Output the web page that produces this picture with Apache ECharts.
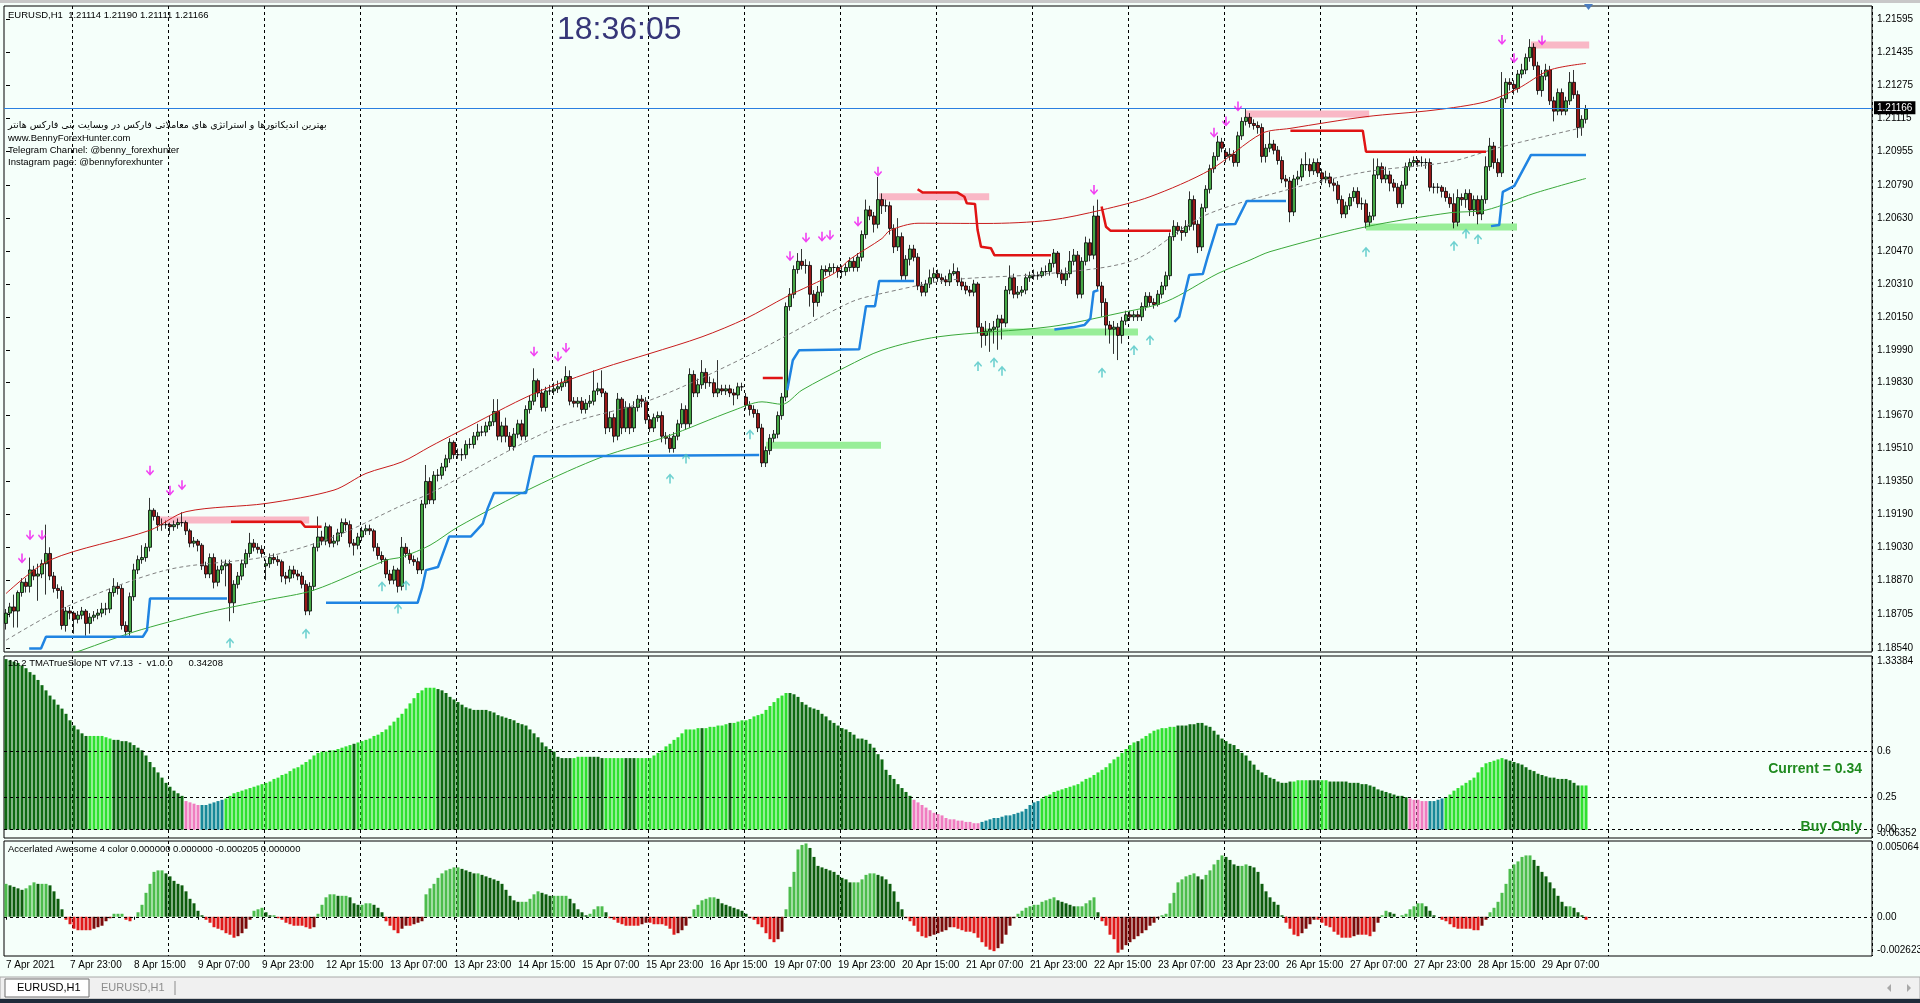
<!DOCTYPE html>
<html><head><meta charset="utf-8">
<script src="https://cdn.jsdelivr.net/npm/echarts@6/dist/echarts.min.js"></script>
<style>html,body{margin:0;padding:0;background:#f5fffa;overflow:hidden}#c{width:1920px;height:1003px}</style>
</head><body><div id="c"></div>
<script>
// ---------- DATA (prices stored as pips above 1.18500) ----------
const BASE_PRICE = 1.185;
const xTickLabels = ['7 Apr 2021','7 Apr 23:00','8 Apr 15:00','9 Apr 07:00','9 Apr 23:00','12 Apr 15:00','13 Apr 07:00','13 Apr 23:00','14 Apr 15:00','15 Apr 07:00','15 Apr 23:00','16 Apr 15:00','19 Apr 07:00','19 Apr 23:00','20 Apr 15:00','21 Apr 07:00','21 Apr 23:00','22 Apr 15:00','23 Apr 07:00','23 Apr 23:00','26 Apr 15:00','27 Apr 07:00','27 Apr 23:00','28 Apr 15:00','29 Apr 07:00'];
const priceTicks = [1.21595,1.21435,1.21275,1.21115,1.20955,1.20790,1.20630,1.20470,1.20310,1.20150,1.19990,1.19830,1.19670,1.19510,1.19350,1.19190,1.19030,1.18870,1.18705,1.18540];
const currentPrice = 1.21166;

const opensPips = [
16,21,24,22,31,36,34,42,39,40, 45,50,39,33,32,15,22,21,18,20,
22,16,19,20,21,23,23,31,34,33, 15,12,29,42,47,48,53,71,68,64,
64,64,63,64,65,65,61,55,56,54, 44,40,48,36,42,44,45,26,35,39,
45,50,55,53,52,44,45,48,47,46, 39,38,42,40,39,35,22,34,53,58,
56,63,55,56,60,65,64,55,54,58, 61,62,61,53,49,47,40,37,42,34,
53,50,47,46,42,74,85,76,88,88, 92,96,104,98,98,98,103,103,107,109,
109,112,114,119,107,112,107,102,108,113, 107,120,124,134,128,121,129,129,130,131,
133,136,124,123,124,120,123,124,129,130, 128,111,116,107,125,111,121,111,121,125,
124,115,111,116,117,107,106,101,107,113, 120,113,137,128,132,138,133,133,128,130,
129,130,128,127,131,126,122,120,118,111, 94,100,106,108,117,126,170,176,188,192,
190,190,176,172,177,188,187,189,189,187, 187,189,192,189,194,205,217,214,210,222,
219,219,208,199,204,185,193,198,194,180, 177,181,184,186,184,183,182,186,187,182,
180,178,177,181,160,156,158,159,160,164, 162,178,184,176,177,178,184,185,185,185,
187,187,191,196,186,183,186,192,195,176, 192,201,195,214,180,172,161,159,160,156,
163,166,165,166,165,170,175,172,171,176, 180,185,204,209,207,206,209,222,210,199,
218,227,237,243,250,245,243,244,240,253, 260,262,259,258,257,243,247,249,246,241,
232,231,216,232,233,239,239,236,240,235, 232,233,230,229,222,215,219,223,226,220,
220,211,214,234,238,232,234,230,228,220, 229,238,240,241,240,240,240,228,228,228,
226,223,220,211,223,222,225,217,222,215, 222,238,248,240,235,271,279,278,276,283,
285,291,296,287,275,282,285,270,265,274, 265,270,279,273,257,261];
const closesPips = [
21,24,22,31,36,34,42,39,40,45, 50,39,33,32,15,22,21,18,20,22,
16,19,20,21,23,23,31,34,33,15, 12,29,42,47,48,53,71,68,64,64,
64,63,64,65,65,61,55,56,54,44, 40,48,36,42,44,45,26,35,39,45,
50,55,53,52,50,45,48,47,46,39, 38,42,40,39,35,22,34,53,58,56,
63,55,56,60,65,64,55,54,58,61, 62,61,53,49,47,40,37,42,34,53,
50,47,46,42,74,85,76,88,88,92, 96,104,98,98,98,103,103,107,109,109,
112,114,119,107,112,107,102,108,113,107, 120,124,134,128,121,129,129,130,131,133,
136,124,123,124,120,123,124,129,130,128, 111,116,107,125,111,121,111,121,125,124,
115,111,116,117,107,106,101,107,113,120, 113,137,128,132,138,133,133,128,130,129,
130,128,127,131,131,122,120,118,111,94, 100,106,108,117,126,170,176,188,192,190,
190,176,172,177,188,187,189,189,187,187, 189,192,189,194,205,217,214,210,222,219,
219,208,199,204,185,193,198,194,180,177, 181,184,186,184,183,182,186,187,182,180,
178,177,181,160,156,158,159,160,164,162, 178,184,176,177,178,184,185,185,185,187,
187,191,196,186,183,186,192,195,176,192, 201,195,214,180,172,161,159,160,156,163,
166,165,166,165,170,175,172,171,176,180, 185,204,209,207,206,209,222,210,199,218,
227,237,243,250,247,243,244,240,253,260, 262,259,258,257,243,247,249,246,241,232,
231,216,232,233,239,239,236,240,235,232, 233,230,229,222,215,219,223,226,220,220,
211,214,234,238,232,234,230,228,220,229, 238,240,241,240,240,240,228,228,228,226,
223,220,211,223,222,225,217,222,215,222, 238,248,240,235,271,279,278,276,283,285,
291,296,287,275,282,285,270,265,274,265, 270,279,273,257,261,266];
const highsPips = [
23,26,30,32,38,38,48,44,45,47, 64,53,41,35,34,24,24,22,22,24,
23,21,22,23,26,26,33,38,36,35, 17,31,45,49,54,55,77,72,70,67,
66,65,66,67,70,66,62,58,57,55, 46,50,50,44,47,47,47,37,41,47,
52,60,57,55,54,47,50,50,49,47, 41,44,44,42,41,37,36,55,68,61,
65,64,59,62,67,67,66,57,60,63, 64,64,62,55,51,48,42,44,43,58,
55,52,49,48,76,93,87,90,91,94, 98,106,105,101,101,105,106,109,113,112,
114,117,125,125,114,116,109,111,115,115, 122,127,140,135,130,131,132,133,134,135,
141,139,126,126,126,125,127,139,133,139, 129,119,118,128,126,124,123,124,127,127,
126,117,118,119,119,109,108,109,115,123, 122,140,139,135,144,140,136,135,144,132,
132,132,130,133,133,128,124,122,120,113, 102,108,110,119,128,172,179,190,196,198,
193,192,178,180,190,190,191,191,190,190, 191,194,194,196,207,222,219,216,233,225,
222,221,210,213,206,195,200,200,196,182, 183,188,189,188,186,185,188,191,189,184,
182,180,183,182,162,163,162,163,166,166, 180,190,186,180,180,186,187,188,187,189,
190,193,198,197,188,189,197,198,197,194, 204,203,219,222,182,174,163,163,162,165,
168,168,168,168,172,177,177,174,178,182, 187,206,212,211,209,212,226,224,212,220,
229,239,245,253,252,247,247,246,255,262, 266,264,261,260,259,249,255,251,248,243,
234,233,234,236,242,245,242,242,242,237, 236,235,232,231,224,221,225,228,228,223,
222,216,242,242,240,238,236,232,230,231, 240,242,243,242,243,242,242,230,230,229,
228,225,225,227,225,227,227,224,224,224, 243,252,250,242,284,281,281,280,285,288,
293,300,298,289,285,288,287,272,276,276, 272,284,285,275,263,268];
const lowsPips = [
13,19,14,14,29,31,31,37,27,38, 30,37,31,28,13,12,18,11,16,18,
10,11,17,18,19,20,21,29,30,13, 10,10,27,40,45,46,51,66,61,61,
62,59,61,62,63,59,53,53,51,42, 38,38,33,34,40,34,17,21,33,37,
43,48,51,50,48,37,43,45,44,36, 35,36,38,37,33,20,20,32,51,54,
54,53,53,54,58,61,53,49,52,56, 59,59,51,47,45,38,35,35,31,32,
48,45,44,40,40,72,74,74,85,86, 90,94,96,96,95,96,101,101,105,107,
107,110,112,105,104,104,100,100,106,105, 105,118,122,126,119,119,127,127,128,129,
131,122,121,121,118,118,121,122,127,126, 108,109,104,105,108,109,108,109,119,121,
113,109,109,114,104,103,99,99,105,111, 110,111,126,126,130,130,131,126,126,127,
127,126,122,125,129,120,117,116,109,92, 92,98,104,106,115,124,168,174,186,188,
186,170,165,170,175,185,185,186,184,184, 185,187,187,187,192,203,212,206,208,215,
216,205,196,197,183,183,190,192,178,175, 175,179,182,182,181,180,180,185,180,178,
176,175,175,157,150,151,148,152,149,154, 160,176,174,174,175,176,182,183,183,184,
185,185,189,184,181,180,184,190,174,174, 190,192,193,178,165,156,152,147,144,152,
161,163,163,163,163,168,170,169,170,174, 178,183,202,205,202,204,207,207,196,197,
216,225,235,241,245,240,241,238,238,251, 258,257,256,254,240,240,245,244,239,230,
228,211,214,229,231,236,233,234,233,229, 230,228,226,220,213,213,217,221,218,217,
208,209,212,232,230,230,226,226,218,218, 227,236,238,238,238,237,226,225,225,223,
221,218,208,209,219,218,214,214,210,212, 220,236,237,233,233,269,275,273,274,281,
283,289,285,273,272,280,268,260,263,263, 263,268,271,252,253,259];

// overlay lines: [barIndex, pips]
const upperBand = [[0,30.5],[11,46.8],[36,61.3],[45,70.3],[65,74.3],[82,80.8],[90,88.9],[99,94.5],[106,101.9],[113,109],[132,127.7],[149,140],[161,147.2],[174,155.3],[185,164.2],[195,174.7],[207,186.1],[211,193],[219,203.1],[221,207],[228,210.5],[245,210.4],[261,212],[274,217],[286,223.4],[301,236.4],[314,254.2],[321,256.6],[340,262.3],[357,265.5],[370,269.6],[378,276],[386,285],[395,288.2]];
const lowerBand = [[0,-10],[19,3],[32,11.9],[49,20.8],[65,27.3],[77,32.2],[95,46.7],[99,48.3],[106,54],[113,62.9],[132,82.3],[149,96.9],[165,106.7],[182,119.6],[189,123.7],[194,122.5],[199,129.4],[210,140.7],[219,148.8],[233,155.3],[261,160.2],[278,166.7],[290,172.4],[303,186.1],[311,192.6],[316,196.7],[340,208.8],[361,215.6],[370,216.9],[382,225],[395,232.3]];
const middleBand = [[0,7.8],[15,24],[40,41.9],[65,48.4],[82,58.1],[99,73.4],[106,79.2],[137,110.7],[161,124.5],[185,145.6],[211,172],[219,176.4],[236,182.9],[261,186.1],[282,192.6],[299,213.7],[320,226.6],[340,235.5],[361,240.4],[374,247.7],[395,257.4]];
const supportSteps = [
 [[5.8,3.8],[8.75,3.8],[10,9.5],[34.2,9.5],[35.25,12.7],[36,28.1],[55.25,28.1]],
 [[80,26],[102.9,26],[104,33],[105,41.9],[108,43.4],[110.8,58.3],[116.25,58.3],[119.2,64.5],[120.4,71.8],[122,79.4],[130,79.4],[132,97.3],[140,97.3],[140.4,97.9],[188.3,97.9]],
 [[195.3,129.3],[196.7,143.9],[198.3,148.8],[213.3,149.2],[215,170.2],[217.25,170.2],[218.3,182.4],[227,182.4]],
 [[262.1,158.9],[266.7,159.9],[269.6,161],[271.1,164.3],[271.9,177.2],[273.1,178]],
 [[292.1,162.6],[293.3,165],[295.8,185.3],[299.2,185.8],[300.4,194],[302.9,209.8],[307.3,210.1],[310.2,221.3],[320,221.3]],
 [[371.25,209.1],[373.3,209.6],[374.2,225.8],[377.1,228.7],[381.25,243.7],[395,243.7]]
];
const resistanceSteps = [
 [[56.25,65.4],[73.75,65.4],[74.75,63],[78.9,63]],
 [[189.2,135.3],[194.2,135.3]],
 [[227.9,227],[229.2,225.4],[237.9,225.4],[239.6,223.4],[240.2,220.2],[242.25,219.9],[242.9,207.2],[243.75,199.1],[246.25,198.3],[247.1,195],[261.25,195]],
 [[273.9,218.6],[275,208.8],[276.1,206.9],[291.25,206.9]],
 [[321.1,255.5],[339.2,255.5],[340,245.3],[370,245.3]]
];
// zones: [fromBar, toBar, pips]
const pinkZones = [[37.9,75.8,66.3],[218.3,245.8,223.4],[310,340.8,263.6],[381.25,395.8,297.1]];
const greenZones = [[190,218.75,102.6],[243.75,283,157.7],[340,377.75,208.7]];
const downArrows = [[4,47.6],[6,58.9],[9,58.9],[36,90.2],[41,80.5],[44,83.2],[132,148],[138,145.6],[140,149.9],[196,194.5],[200,203.4],[204,203.9],[206,204.7],[213,211.2],[218,235.5],[272,226.7],[302,254.5],[305,259.9],[308,267.2],[374,299.6],[377,290.7],[384,299.3]];
const upArrows = [[56,6.6],[75,11.1],[94,34.1],[98,23.2],[100,34.6],[166,86.4],[170,96.1],[186,108],[243,141.1],[247,142.9],[249,138.8],[274,138],[282,148.9],[286,153.7],[340,196.6],[362,199.6],[365,205.5],[368,202.8]];

// TMA True Slope histogram (hundredths)
const tmaSlope = [
131,130,129,128,126,124,121,119,115,111, 107,103,100,96,93,89,84,80,77,74,
72,72,72,72,72,71,70,69,69,68, 68,67,65,63,61,57,52,48,44,40,
36,33,30,28,26,22,21,20,19,19, 19,20,21,22,23,24,26,28,29,30,
31,32,33,34,35,36,37,39,40,42, 43,45,47,48,50,52,54,57,59,60,
60,61,61,62,63,64,65,66,67,68, 69,70,72,73,75,77,80,83,86,89,
93,97,101,105,107,109,109,109,108,107, 105,102,100,98,96,94,93,92,92,92,
92,91,90,88,87,86,85,84,82,81, 80,77,74,71,67,64,62,60,56,55,
55,55,55,56,56,56,56,56,56,55, 55,55,55,55,55,55,55,55,55,55,
55,55,57,59,61,64,66,69,71,74, 77,77,77,78,78,78,79,79,80,80,
81,82,82,83,84,84,85,87,88,89, 92,95,98,101,103,105,105,104,102,98,
96,94,93,92,89,87,84,82,80,78, 77,75,73,70,70,69,66,63,58,54,
46,42,39,35,32,29,26,23,21,19, 17,15,13,12,11,9,8,8,7,7,
6,6,5,5,6,7,8,9,9,10, 11,11,12,13,14,16,19,21,22,24,
26,27,29,30,31,32,33,34,35,37, 39,40,42,44,46,48,51,54,56,59,
62,65,67,68,70,72,74,76,77,78, 78,79,79,80,80,80,81,81,82,82,
80,79,76,73,70,68,66,65,62,59, 57,53,50,46,44,42,40,39,37,36,
36,37,37,38,38,38,38,38,38,38, 38,37,37,37,37,37,36,36,36,35,
35,34,33,31,30,29,28,27,26,26, 25,24,23,23,22,22,22,22,23,24,
25,27,30,32,34,36,38,40,44,48, 51,52,53,54,55,54,53,52,51,50,
48,46,45,43,42,41,40,40,39,39, 39,38,36,34,34,34];
const tmaColorRuns = [[0,'D'],[21,'B'],[27,'D'],[45,'P'],[49,'T'],[55,'B'],[87,'D'],[88,'B'],[108,'D'],[142,'B'],[146,'D'],[150,'B'],[155,'D'],[158,'B'],[174,'D'],[175,'B'],[181,'D'],[182,'B'],[196,'D'],[227,'P'],[244,'T'],[259,'B'],[283,'D'],[284,'B'],[293,'D'],[322,'B'],[326,'D'],[329,'B'],[331,'D'],[351,'P'],[356,'T'],[360,'B'],[375,'D'],[394,'B']];

// Accelerated Awesome histogram (x 0.0001)
const aoValues = [
22,21,20,19,18,19,21,23,22,22, 22,21,17,12,5,-2,-5,-8,-9,-9,
-9,-9,-8,-7,-6,-3,-1,2,2,2, -2,-3,0,3,8,16,22,30,31,31,
29,27,24,22,21,17,12,9,4,1, -2,-4,-7,-8,-9,-11,-12,-14,-13,-11,
-8,-2,4,5,6,3,1,1,-1,-2, -4,-5,-6,-6,-6,-7,-8,-7,2,8,
13,15,15,14,14,14,13,9,8,8, 9,9,8,6,3,-3,-6,-9,-11,-8,
-6,-6,-5,-4,-3,15,19,22,26,29, 31,32,33,33,32,31,30,29,29,28,
27,26,25,24,22,18,14,11,10,10, 10,12,15,17,16,15,14,14,14,14,
14,12,9,5,3,1,2,5,7,7, 3,-1,-2,-4,-5,-6,-6,-6,-6,-5,
-4,-4,-5,-5,-5,-6,-8,-12,-11,-9, -6,-1,5,8,11,12,13,13,12,9,
8,7,6,5,4,2,-1,-2,-5,-7, -11,-15,-17,-15,-10,5,20,30,45,48,
49,46,40,34,33,32,31,30,28,26, 25,23,23,23,25,28,29,29,28,27,
25,22,17,10,5,-1,-3,-6,-10,-13, -14,-13,-12,-11,-10,-9,-7,-7,-8,-9,
-10,-10,-11,-14,-17,-20,-22,-23,-21,-18, -12,-6,-1,2,4,6,7,8,8,10,
11,12,13,11,10,9,8,7,7,7, 9,11,13,3,-3,-6,-12,-15,-24,-22,
-19,-17,-15,-13,-11,-9,-6,-4,-1,1, 2,9,16,23,25,27,28,29,27,25,
28,31,35,38,41,40,38,35,34,34, 35,34,33,30,22,17,13,10,8,1,
-4,-8,-12,-13,-11,-8,-5,-2,-2,-4, -6,-7,-10,-12,-14,-14,-14,-13,-12,-12,
-12,-13,-10,-4,1,4,3,2,0,1, 2,5,7,9,9,7,4,1,0,-2,
-3,-5,-7,-8,-8,-8,-8,-9,-9,-6, -2,3,6,10,16,22,32,35,37,40,
41,41,38,34,30,27,23,19,14,10, 7,7,6,3,1,-2];

// ---------- BUILD ----------
const NSLOTS = 467;
const categories = Array.from({length: NSLOTS}, (_, i) => String(i));
const P = v => +(BASE_PRICE + v / 10000).toFixed(5);
const candleData = opensPips.map((o, i) => [P(o), P(closesPips[i]), P(lowsPips[i]), P(highsPips[i])]);
const FONT = '"Liberation Sans", Arial, sans-serif';

const tmaColors = {D:'#0e6a12', B:'#2fe02f', P:'#f07cc0', T:'#178898'};
function tmaColor(i){ let c = 'D'; for (const [s,k] of tmaColorRuns){ if (i >= s) c = k; else break; } return tmaColors[c]; }
function aoColor(i){ const v = aoValues[i], p = i > 0 ? aoValues[i-1] : v; if (v >= 0) return v >= p ? '#4cbc4c' : '#0c5c0c'; return v <= p ? '#e01a1a' : '#7c0a0a'; }

const labelInt = (i) => i % 16 === 0 && i / 16 < xTickLabels.length;
const gridInt = (i) => i >= 17 && i <= 401 && (i - 17) % 24 === 0;
function catAxis(g, withLabels){
  return {type:'category', gridIndex:g, data:categories, boundaryGap:true,
    axisLine:{show:false},
    axisTick: withLabels ? {show:true, interval:labelInt, alignWithLabel:true, length:3, lineStyle:{color:'#000'}} : {show:false},
    axisLabel: withLabels ? {show:true, interval:labelInt, formatter:(v,i)=>xTickLabels[i/16], align:'left', margin:4, fontSize:10, fontFamily:FONT, color:'#000'} : {show:false},
    splitLine:{show:true, interval:gridInt, lineStyle:{color:'#000', type:[3,3], width:1}}};
}
function line(points, color, width, extra){
  return Object.assign({type:'line', xAxisIndex:3, yAxisIndex:0, data:points.map(([x,v])=>[x,P(v)]),
    symbol:'none', showSymbol:false, silent:true, lineStyle:{color, width, cap:'butt'}, z:3}, extra||{});
}
const series = [];
pinkZones.forEach(([a,b,v]) => series.push(line([[a,v],[b,v]], '#f9b8c6', 7, {z:1})));
greenZones.forEach(([a,b,v]) => series.push(line([[a,v],[b,v]], '#98ee98', 7, {z:1})));
series.push({type:'candlestick', xAxisIndex:0, yAxisIndex:0, data:candleData, barWidth:3, z:2,
  itemStyle:{color:'#45a845', color0:'#981818', borderColor:'#000', borderColor0:'#000', borderWidth:0.8}});
// current price line
series.push({type:'line', xAxisIndex:3, yAxisIndex:0, data:[[0, currentPrice]], symbol:'none', showSymbol:false, silent:true,
  lineStyle:{opacity:0}, z:3,
  markLine:{symbol:'none', silent:true, animation:false, precision:5, data:[{yAxis:currentPrice}],
    lineStyle:{color:'#2a7fe0', width:1, type:'solid'},
    label:{show:true, position:'end', formatter:'1.21166', backgroundColor:'#000', color:'#fff', fontSize:10, fontFamily:FONT, padding:[2,3,1,3], distance:2}}});
series.push(line(upperBand, '#c81c1c', 1, {smooth:0.3}));
series.push(line(lowerBand, '#3aa83a', 1, {smooth:0.3}));
series.push(line(middleBand, '#808080', 1, {smooth:0.3, lineStyle:{color:'#808080', width:1, type:[4,3]}}));
supportSteps.forEach(s => series.push(line(s, '#1f84e2', 2.5, {z:4})));
resistanceSteps.forEach(s => series.push(line(s, '#e01414', 2.5, {z:4})));
series.push({type:'scatter', xAxisIndex:3, yAxisIndex:0, data:downArrows.map(([x,v])=>[x,P(v)]), silent:true, z:5,
  symbol:'path://M4,0 L6,0 L6,7 L9,4 L10,5.5 L5,10 L0,5.5 L1,4 L4,7 Z', symbolSize:[8,10], itemStyle:{color:'#f010f0'}});
series.push({type:'scatter', xAxisIndex:3, yAxisIndex:0, data:upArrows.map(([x,v])=>[x,P(v)]), silent:true, z:5,
  symbol:'path://M4,10 L6,10 L6,3 L9,6 L10,4.5 L5,0 L0,4.5 L1,6 L4,3 Z', symbolSize:[8,10], itemStyle:{color:'#4cc6c6'}});
const levelLine = (vals) => ({symbol:'none', silent:true, animation:false, precision:5, label:{show:false},
  lineStyle:{color:'#000', type:[3,3], width:1}, data:vals.map(v=>({yAxis:v}))});
series.push({type:'bar', xAxisIndex:1, yAxisIndex:1, barWidth:3, silent:true,
  data:tmaSlope.map((v,i)=>({value:v/100, itemStyle:{color:tmaColor(i)}})), markLine:levelLine([0.6,0.25,0])});
series.push({type:'bar', xAxisIndex:2, yAxisIndex:2, barWidth:3, silent:true,
  data:aoValues.map((v,i)=>({value:v/10000, itemStyle:{color:aoColor(i)}})), markLine:levelLine([0])});

const axisLbl = {color:'#000', fontSize:10, fontFamily:FONT, margin:5};
const txt = (x, y, text, opt) => Object.assign({type:'text', x, y, z:100, silent:true,
  style:Object.assign({text, fill:'#000', font:'10px ' + FONT, textVerticalAlign:'middle', verticalAlign:'middle'}, opt||{})});

const graphic = [
  {type:'rect', shape:{x:0,y:0,width:1920,height:3}, style:{fill:'#c8c8c8'}, silent:true},
  txt(8, 15, 'EURUSD,H1  1.21114 1.21190 1.21111 1.21166', {font:'9.5px ' + FONT}),
  txt(557, 30, '18:36:05', {font:'32px ' + FONT, fill:'#363678'}),
  txt(8, 126, 'بهترین اندیکاتورها و استراتژی های معاملاتی فارکس در وبسایت بنی فارکس هانتر', {font:'9.5px "DejaVu Sans", sans-serif'}),
  txt(8, 138, 'www.BennyForexHunter.com', {font:'9.5px ' + FONT}),
  txt(8, 150, 'Telegram Channel: @benny_forexhunter', {font:'9.5px ' + FONT}),
  txt(8, 162, 'Instagram page: @bennyforexhunter', {font:'9.5px ' + FONT}),
  {type:'polygon', shape:{points:[[1584,4],[1593,4],[1588.5,10]]}, style:{fill:'#4a7cc0'}, silent:true},
  txt(8, 663, '10.2 TMATrueSlope NT v7.13  -  v1.0.0      0.34208', {font:'9.5px ' + FONT}),
  txt(1862, 769, 'Current = 0.34', {font:'bold 14px ' + FONT, fill:'#1f8a1f', textAlign:'right', align:'right'}),
  txt(1862, 827, 'Buy Only', {font:'bold 14px ' + FONT, fill:'#1f8a1f', textAlign:'right', align:'right'}),
  txt(1877, 661, '1.33384'),
  txt(1877, 833, '-0.06352'),
  txt(8, 849, 'Accerlated Awesome 4 color 0.000000 0.000000 -0.000205 0.000000', {font:'9.5px ' + FONT}),
  txt(1877, 847, '0.005064'),
  txt(1877, 950, '-0.002623'),
  {type:'rect', shape:{x:0,y:977,width:1920,height:22}, style:{fill:'#f0f0f0', stroke:'#a8a8a8', lineWidth:1}, silent:true},
  {type:'rect', shape:{x:5,y:979,width:84,height:18}, style:{fill:'#ffffff', stroke:'#6e6e6e', lineWidth:1}, silent:true},
  txt(17, 988, 'EURUSD,H1', {font:'11px ' + FONT}),
  txt(101, 988, 'EURUSD,H1', {font:'11px ' + FONT, fill:'#8c8c8c'}),
  {type:'line', shape:{x1:175,y1:981,x2:175,y2:995}, style:{stroke:'#8c8c8c', lineWidth:1}, silent:true},
  {type:'polygon', shape:{points:[[1891,984],[1891,992],[1887,988]]}, style:{fill:'#a8a8a8'}, silent:true},
  {type:'polygon', shape:{points:[[1907,984],[1907,992],[1911,988]]}, style:{fill:'#a8a8a8'}, silent:true},
  {type:'rect', shape:{x:0,y:999,width:1920,height:4}, style:{fill:'#1f2b3a'}, silent:true}
];

const option = {
  animation:false,
  backgroundColor:'#f5fffa',
  grid:[
    {left:4, right:48, top:6, height:646, show:true, borderColor:'#000', borderWidth:1, backgroundColor:'transparent'},
    {left:4, right:48, top:656, height:182, show:true, borderColor:'#000', borderWidth:1, backgroundColor:'transparent'},
    {left:4, right:48, top:841, height:115, show:true, borderColor:'#000', borderWidth:1, backgroundColor:'transparent'}
  ],
  xAxis:[catAxis(0,false), catAxis(1,false), catAxis(2,true),
    {type:'value', gridIndex:0, min:-0.5, max:NSLOTS-0.5, show:false}],
  yAxis:[
    {type:'value', gridIndex:0, position:'right', min:1.18521, max:1.21661, axisLine:{show:false}, splitLine:{show:false},
      axisTick:{show:true, customValues:priceTicks, length:4, lineStyle:{color:'#000'}},
      axisLabel:Object.assign({customValues:priceTicks, formatter:v=>v.toFixed(5)}, axisLbl)},
    {type:'value', gridIndex:1, position:'right', min:-0.06352, max:1.33384, axisLine:{show:false}, splitLine:{show:false},
      axisTick:{show:false},
      axisLabel:Object.assign({customValues:[0.6,0.25,0], formatter:v=>v===0?'0.00':String(v)}, axisLbl)},
    {type:'value', gridIndex:2, position:'right', min:-0.002623, max:0.005064, axisLine:{show:false}, splitLine:{show:false},
      axisTick:{show:false},
      axisLabel:Object.assign({customValues:[0], formatter:()=> '0.00'}, axisLbl)}
  ],
  series,
  graphic
};
const chart = echarts.init(document.getElementById('c'), null, {renderer:'canvas'});
chart.setOption(option);
</script></body></html>
